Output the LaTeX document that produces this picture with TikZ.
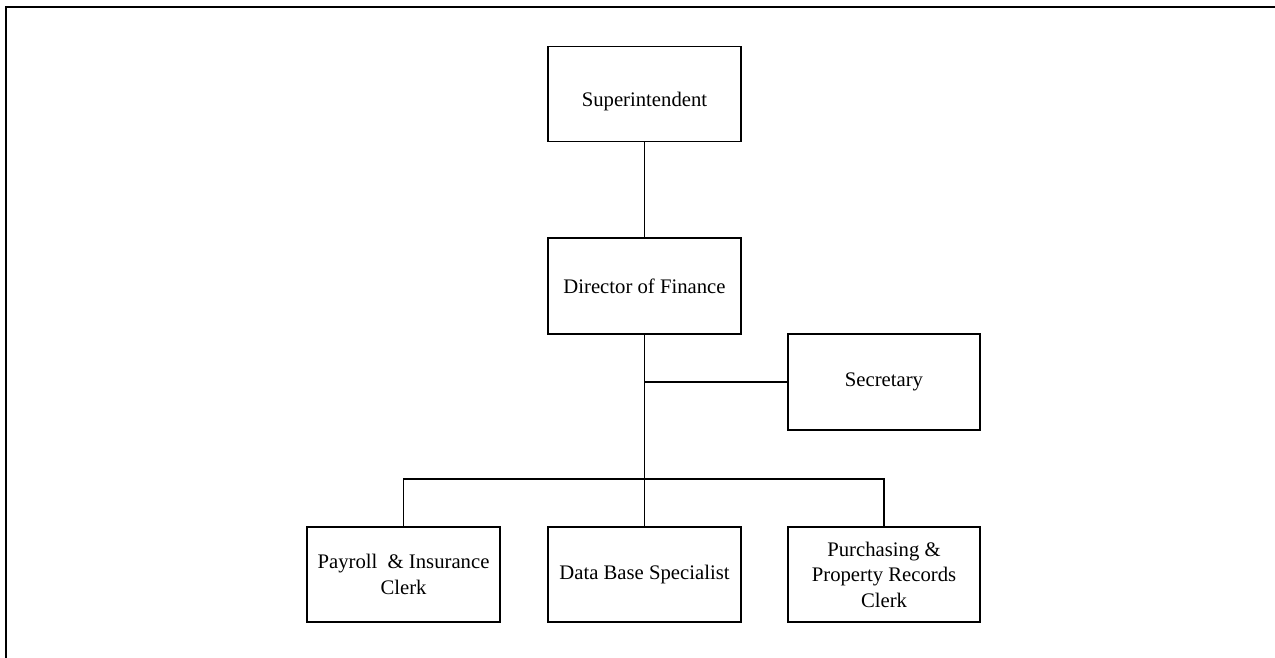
\documentclass[tikz,border=0pt]{standalone}
\usepackage{fontspec}
\setmainfont{Liberation Serif}
\begin{document}
\begin{tikzpicture}[x=1pt,y=-1pt,
  box/.style={draw=black, line width=1.7pt, fill=white, inner sep=0pt, align=center,
    minimum width=193pt, minimum height=95pt, font=\fontsize{20.7}{25.5}\selectfont},
  conn/.style={draw=black, line width=1.9pt},
  frame/.style={draw=black, line width=2.6pt}]
\useasboundingbox (0,0) rectangle (1275,658);
\draw[frame] (1280,7) -- (6,7) -- (6,665);
\node[box] (sup) at (644.5,94) {\raisebox{-8pt}[\height][\depth]{Superintendent}};
\node[box, minimum height=96pt] (dir) at (644.5,286) {Director of Finance};
\node[box, minimum width=192pt, minimum height=96pt] (sec) at (884,382) {Secretary};
\node[box] (pay) at (403.5,574.5) {Payroll\ \ \& Insurance\\Clerk};
\node[box] (dbs) at (644.5,574.5) {Data Base Specialist};
\node[box, minimum width=192pt] (pur) at (884,574.5) {Purchasing \&\\Property Records\\Clerk};
\coordinate (jsec) at (dir.south |- sec.west);
\coordinate (jbot) at (dir.south |- 0,479);
\draw[conn] (sup.south) -- (dir.north);
\draw[conn] (dir.south) -- (jbot);
\draw[conn] (jsec) -- (sec.west);
\draw[conn] (pay.north) |- (jbot) -| (pur.north);
\draw[conn] (jbot) -- (dbs.north);
\end{tikzpicture}
\end{document}
